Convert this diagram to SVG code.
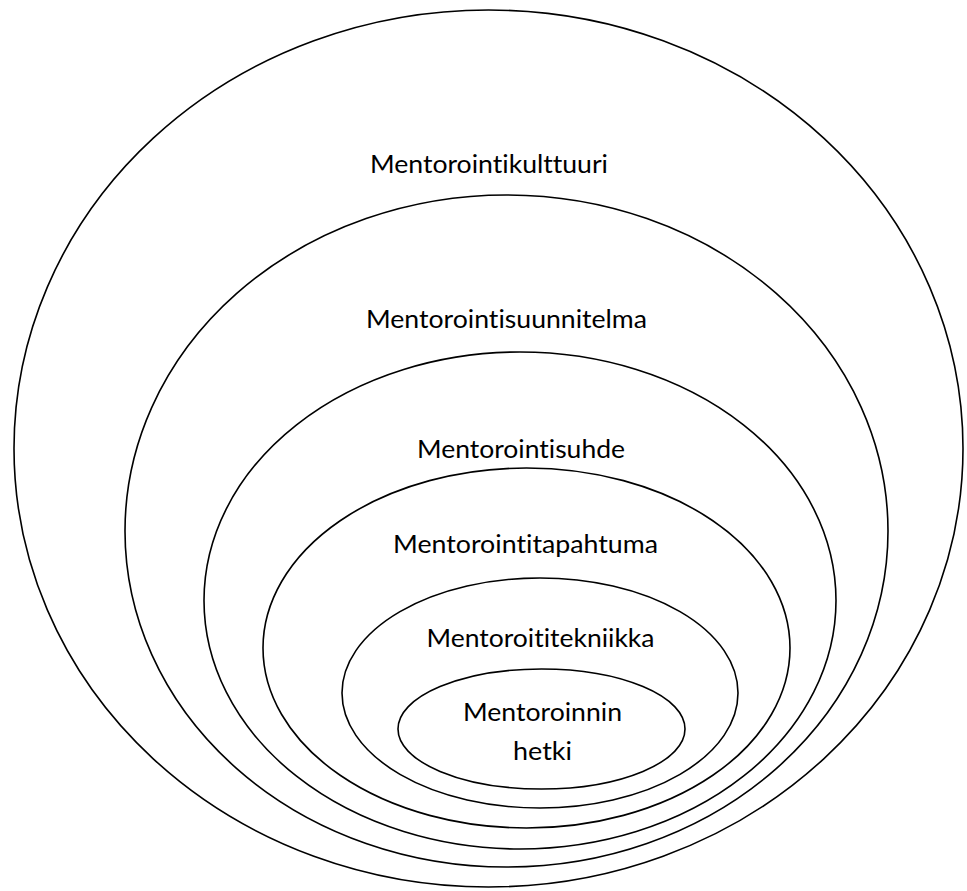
<svg xmlns="http://www.w3.org/2000/svg" width="967" height="891" viewBox="0 0 967 891">
<style>
.ring{fill:none;stroke:#000;stroke-width:1.6}
.lbl{font-family:Lato,"Open Sans","Liberation Sans",sans-serif;font-size:25.5px;fill:#000;text-anchor:middle;font-variant-ligatures:none;font-feature-settings:"liga" 0,"clig" 0,"dlig" 0}
</style>
<rect width="967" height="891" fill="#fff"/>
<g id="kulttuuri">
<ellipse class="ring" cx="488.5" cy="448.5" rx="474.5" ry="438.5"/>
<text class="lbl" x="489" y="173" textLength="238" lengthAdjust="spacingAndGlyphs">Mentorointikulttuuri</text>
</g>
<g id="suunnitelma">
<ellipse class="ring" cx="506.5" cy="531" rx="381.5" ry="336"/>
<text class="lbl" x="506.5" y="328" textLength="281" lengthAdjust="spacingAndGlyphs">Mentorointisuunnitelma</text>
</g>
<g id="suhde">
<ellipse class="ring" cx="520" cy="600.5" rx="316" ry="248.5"/>
<text class="lbl" x="521" y="458" textLength="208" lengthAdjust="spacingAndGlyphs">Mentorointisuhde</text>
</g>
<g id="tapahtuma">
<ellipse class="ring" cx="526.5" cy="648" rx="263.5" ry="180"/>
<text class="lbl" x="525.5" y="553" textLength="265" lengthAdjust="spacingAndGlyphs">Mentorointitapahtuma</text>
</g>
<g id="tekniikka">
<ellipse class="ring" cx="540" cy="693" rx="198" ry="115"/>
<text class="lbl" x="540.5" y="647" textLength="228" lengthAdjust="spacingAndGlyphs">Mentoroititekniikka</text>
</g>
<g id="hetki">
<ellipse class="ring" cx="541.5" cy="729" rx="143.5" ry="60"/>
<text class="lbl" x="542.5" y="721" textLength="159" lengthAdjust="spacingAndGlyphs">Mentoroinnin</text>
<text class="lbl" x="542.5" y="760" textLength="59" lengthAdjust="spacingAndGlyphs">hetki</text>
</g>
<g id="connectors"/>
</svg>
